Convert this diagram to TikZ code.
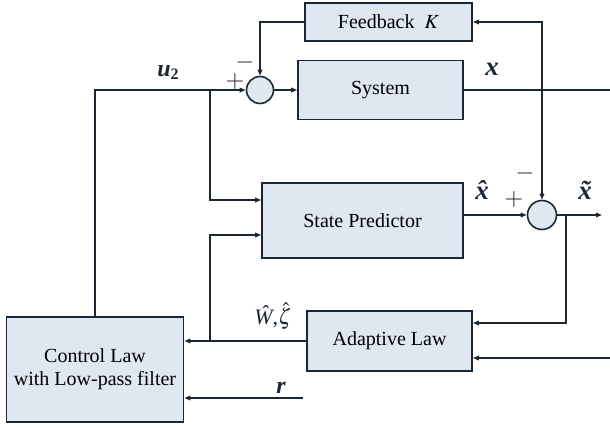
\documentclass[tikz,border=0pt]{standalone}
\usepackage{mathptmx}
\usepackage{fontspec}
\setmainfont{Liberation Serif}
\usetikzlibrary{arrows.meta}
\definecolor{boxfill}{HTML}{DFE7F0}
\definecolor{ink}{HTML}{1C2733}
\newcommand{\bivar}[1]{{\bfseries\itshape #1}}
\newcommand{\subtwo}{\raisebox{-0.12em}{\fontsize{16}{18}\selectfont\bfseries 2}}
\begin{document}
\begin{tikzpicture}[x=1pt,y=-1pt,
  blk/.style={draw=ink,line width=1.6pt,fill=boxfill,inner sep=0pt,font=\fontsize{20}{23}\selectfont,align=center},
  sumc/.style={draw=ink,line width=1.6pt,fill=boxfill,circle,minimum size=27pt,inner sep=0pt},
  wire/.style={draw=ink,line width=1.6pt},
  arr/.style={wire,-{Triangle[length=6pt,width=4.5pt]}},
  lbl/.style={font=\fontsize{24}{27}\selectfont,inner sep=0pt,text=ink},
  big/.style={font=\fontsize{27}{30}\selectfont}]
\useasboundingbox (0,0) rectangle (610,428);
% blocks
\node[blk,minimum width=167pt,minimum height=38pt] (fb) at (388.5,22) {Feedback \ $K$};
\node[blk,minimum width=165pt,minimum height=59pt] (sys) at (380.5,90) {System};
\node[blk,minimum width=201pt,minimum height=75pt] (sp) at (362.5,220.5) {State Predictor};
\node[blk,minimum width=165pt,minimum height=60pt] (al) at (389.5,341) {Adaptive Law};
\node[blk,minimum width=177pt,minimum height=105pt] (cl) at (95,369.5) {Control Law\\with Low-pass filter};
\node[sumc] (s1) at (260,90) {};
\node[sumc,minimum size=29pt] (s2) at (542,215) {};
% coordinates
\coordinate (bu) at (210,90);
\coordinate (bx) at (542,90);
\coordinate (xend) at (610,90);
\coordinate (be) at (566,215);
\coordinate (eend) at (602,215);
\coordinate (bw) at (210,340);
\coordinate (rin) at (303,398);
\coordinate (xin) at (610,358);
% connectors
\draw[arr] (cl.north) |- (s1.west);
\draw[arr] (bu) |- (sp.west |- 0,200);
\draw[arr] (s1.east) -- (sys.west);
\draw[arr] (fb.west) -| (s1.north);
\draw[wire] (sys.east) -- (xend);
\draw[arr] (bx) |- (fb.east);
\draw[arr] (bx) -- (s2.north);
\draw[arr] (s2.west -| sp.east) -- (s2.west);
\draw[arr] (s2.east) -- (eend);
\draw[arr] (be) |- (al.east |- 0,323);
\draw[arr] (xin) -- (al.east |- xin);
\draw[arr] (al.west) -- (cl.east |- al.west);
\draw[arr] (bw) |- (sp.west |- 0,235);
\draw[arr] (rin) -- (cl.east |- rin);
% labels
\node[lbl,anchor=base] (lu) at (168,77) {\bivar{u}\subtwo};
\node[lbl,big,anchor=base] (lx) at (492,75) {\bivar{x}};
\node[lbl] (lm1) at (245,62) {$-$};
\node[lbl] (lp1) at (235,82) {$+$};
\node[lbl,big,anchor=base] (lxh) at (482,199) {\bivar{\^x}};
\node[lbl] (lp2) at (514,200) {$+$};
\node[lbl] (lm2) at (525,173) {$-$};
\node[lbl,big,anchor=base] (lxt) at (585,199) {\bivar{\~x}};
\node[lbl,font=\fontsize{22}{25}\selectfont,anchor=base] (lw) at (273,324) {{\itshape\^W},$\hat{\zeta}$};
\node[lbl,anchor=base] (lr) at (281,393) {\bivar{r}};
\end{tikzpicture}
\end{document}
